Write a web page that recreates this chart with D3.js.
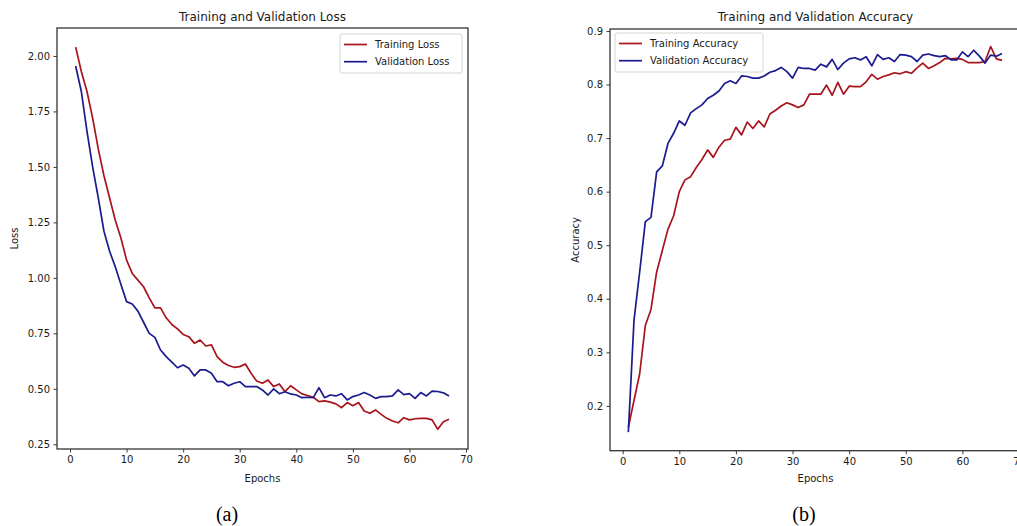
<!DOCTYPE html>
<html>
<head>
<meta charset="utf-8">
<script src="https://cdn.jsdelivr.net/npm/d3@7"></script>
<style>
    body { margin: 0; background: #fff; }
    svg { display: block; }
    text { font-family: "DejaVu Sans", sans-serif; fill: #1a1a1a; }
    .caption { font-family: "Liberation Serif", serif; font-size: 20px; fill: #000; }
</style>
</head>
<body>
<svg width="1017" height="526"></svg>
<script>
var trainLoss = [2.04, 1.93, 1.84, 1.72, 1.58, 1.46, 1.36, 1.26, 1.18, 1.08,
    1.02, 0.99, 0.96, 0.91, 0.865, 0.865, 0.82, 0.79, 0.77, 0.745,
    0.735, 0.705, 0.72, 0.693, 0.698, 0.645, 0.62, 0.605, 0.597, 0.60,
    0.612, 0.57, 0.535, 0.525, 0.54, 0.51, 0.522, 0.487, 0.514, 0.495,
    0.477, 0.47, 0.462, 0.442, 0.446, 0.44, 0.432, 0.415, 0.438, 0.424,
    0.438, 0.40, 0.39, 0.405, 0.385, 0.367, 0.355, 0.347, 0.37, 0.36,
    0.365, 0.367, 0.367, 0.36, 0.318, 0.352, 0.363];

var valLoss = [1.955, 1.84, 1.66, 1.50, 1.36, 1.21, 1.12, 1.05, 0.97, 0.893,
    0.882, 0.85, 0.80, 0.75, 0.732, 0.675, 0.645, 0.62, 0.595, 0.607,
    0.593, 0.558, 0.585, 0.585, 0.57, 0.532, 0.532, 0.514, 0.525, 0.532,
    0.51, 0.51, 0.51, 0.495, 0.472, 0.50, 0.478, 0.487, 0.477, 0.472,
    0.46, 0.462, 0.46, 0.505, 0.46, 0.472, 0.468, 0.478, 0.45, 0.465,
    0.472, 0.483, 0.472, 0.457, 0.465, 0.465, 0.468, 0.495, 0.474, 0.478,
    0.457, 0.483, 0.468, 0.49, 0.488, 0.482, 0.468];

var trainAcc = [0.16, 0.21, 0.26, 0.35, 0.38, 0.45, 0.49, 0.53, 0.555, 0.60,
    0.622, 0.628, 0.645, 0.66, 0.678, 0.664, 0.683, 0.696, 0.698, 0.72,
    0.706, 0.73, 0.718, 0.732, 0.721, 0.745, 0.752, 0.76, 0.766, 0.762,
    0.757, 0.762, 0.782, 0.782, 0.782, 0.799, 0.78, 0.804, 0.782, 0.797,
    0.796, 0.796, 0.805, 0.819, 0.81, 0.815, 0.818, 0.822, 0.82, 0.824,
    0.821, 0.831, 0.84, 0.83, 0.835, 0.841, 0.849, 0.848, 0.849, 0.847,
    0.841, 0.841, 0.841, 0.843, 0.871, 0.848, 0.845];

var valAcc = [0.151, 0.36, 0.45, 0.544, 0.552, 0.637, 0.648, 0.69, 0.709, 0.732,
    0.724, 0.747, 0.755, 0.762, 0.774, 0.78, 0.788, 0.802, 0.807, 0.802,
    0.816, 0.815, 0.812, 0.812, 0.816, 0.823, 0.826, 0.832, 0.824, 0.812,
    0.832, 0.83, 0.83, 0.827, 0.838, 0.833, 0.847, 0.828, 0.84, 0.848,
    0.85, 0.846, 0.852, 0.835, 0.856, 0.847, 0.85, 0.843, 0.856, 0.855,
    0.852, 0.843, 0.855, 0.857, 0.854, 0.852, 0.854, 0.846, 0.846, 0.861,
    0.852, 0.864, 0.853, 0.84, 0.855, 0.853, 0.858];

var epochTicks = [0, 10, 20, 30, 40, 50, 60, 70],
    lossTicks = [0.25, 0.50, 0.75, 1.00, 1.25, 1.50, 1.75, 2.00],
    accTicks = [0.2, 0.3, 0.4, 0.5, 0.6, 0.7, 0.8, 0.9];

var red = '#a8141c',
    blue = '#1b1b8f';

var svg = d3.select('svg');

panel({
    left: 57, right: 468, top: 28, bottom: 449,
    xDomain: [-2.3, 70.35], yDomain: [0.2288, 2.126],
    yTicks: lossTicks, fmt: '.2f',
    title: 'Training and Validation Loss', ylabel: 'Loss', ylabelX: 14,
    series: [
        {name: 'Training Loss', values: trainLoss, color: red},
        {name: 'Validation Loss', values: valLoss, color: blue}
    ],
    legend: {x: 340, y: 34, w: 122, h: 39},
    caption: '(a)', captionX: 227
});

panel({
    left: 610, right: 1021, top: 29, bottom: 450.7,
    xDomain: [-2.24, 70.35], yDomain: [0.1163, 0.9037],
    yTicks: accTicks, fmt: '.1f',
    title: 'Training and Validation Accuracy', ylabel: 'Accuracy', ylabelX: 575,
    series: [
        {name: 'Training Accuracy', values: trainAcc, color: red},
        {name: 'Validation Accuracy', values: valAcc, color: blue}
    ],
    legend: {x: 615, y: 33, w: 148, h: 39},
    caption: '(b)', captionX: 804
});

function panel(cfg) {
    var x = d3.scaleLinear().domain(cfg.xDomain).range([cfg.left, cfg.right]),
        y = d3.scaleLinear().domain(cfg.yDomain).range([cfg.bottom, cfg.top]),
        g = svg.append('g'),
        midX = (cfg.left + cfg.right) / 2;

    var xAxis = g.append('g')
        .attr('transform', 'translate(0,' + cfg.bottom + ')')
        .call(d3.axisBottom(x).tickValues(epochTicks).tickSize(3.5).tickPadding(3.5)
            .tickFormat(d3.format('d')));
    var yAxis = g.append('g')
        .attr('transform', 'translate(' + cfg.left + ',0)')
        .call(d3.axisLeft(y).tickValues(cfg.yTicks).tickSize(3.5).tickPadding(3.5)
            .tickFormat(d3.format(cfg.fmt)));
    [xAxis, yAxis].forEach(function(a) {
        a.select('.domain').remove();
        a.selectAll('line').attr('stroke', '#222').attr('stroke-width', 0.9);
        a.selectAll('text').attr('font-family', '"DejaVu Sans", sans-serif')
            .attr('font-size', 10).attr('fill', '#1a1a1a');
    });

    var line = d3.line()
        .x(function(d, i) { return x(i + 1); })
        .y(function(d) { return y(d); });

    for (var i = 0, l = cfg.series.length; i < l; i++) {
        var s = cfg.series[i];
        g.append('path')
            .attr('d', line(s.values))
            .attr('fill', 'none')
            .attr('stroke', s.color)
            .attr('stroke-width', 1.7)
            .attr('stroke-linejoin', 'round');
    }

    // frame
    g.append('rect')
        .attr('x', cfg.left).attr('y', cfg.top)
        .attr('width', cfg.right - cfg.left).attr('height', cfg.bottom - cfg.top)
        .attr('fill', 'none').attr('stroke', '#333').attr('stroke-width', 1.3);

    // legend
    var lg = cfg.legend;
    g.append('rect')
        .attr('x', lg.x).attr('y', lg.y).attr('width', lg.w).attr('height', lg.h)
        .attr('rx', 2).attr('fill', '#fff').attr('stroke', '#d4d4d4');
    for (var j = 0; j < cfg.series.length; j++) {
        var ry = lg.y + 10.5 + j * 17.2;
        g.append('line')
            .attr('x1', lg.x + 4).attr('x2', lg.x + 27)
            .attr('y1', ry).attr('y2', ry)
            .attr('stroke', cfg.series[j].color).attr('stroke-width', 1.7);
        g.append('text')
            .attr('x', lg.x + 35).attr('y', ry + 3.6)
            .attr('font-size', 10)
            .text(cfg.series[j].name);
    }

    g.append('text')
        .attr('x', midX).attr('y', 21)
        .attr('text-anchor', 'middle').attr('font-size', 12)
        .text(cfg.title);

    g.append('text')
        .attr('x', midX).attr('y', 482)
        .attr('text-anchor', 'middle').attr('font-size', 10)
        .text('Epochs');

    g.append('text')
        .attr('transform', 'translate(' + (cfg.ylabelX + 3.5) + ',' + ((cfg.top + cfg.bottom) / 2) + ') rotate(-90)')
        .attr('text-anchor', 'middle').attr('font-size', 10)
        .text(cfg.ylabel);

    g.append('text')
        .attr('class', 'caption')
        .attr('x', cfg.captionX).attr('y', 521)
        .attr('text-anchor', 'middle')
        .text(cfg.caption);
}
</script>
</body>
</html>
